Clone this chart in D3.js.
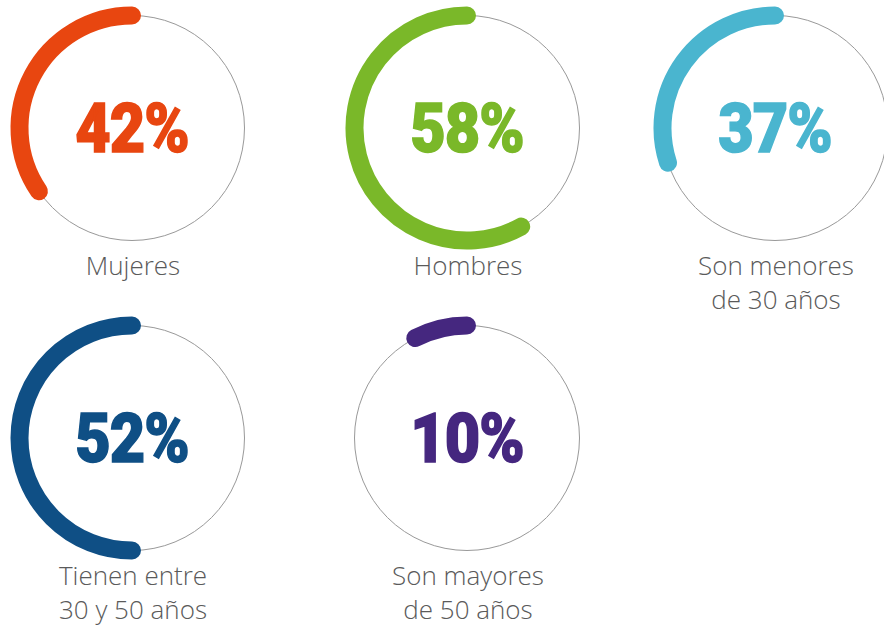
<!DOCTYPE html>
<html>
<head>
<meta charset="utf-8">
<script src="https://cdn.jsdelivr.net/npm/d3@7"></script>
<style>
  body { margin: 0; background: #fff; }
</style>
</head>
<body>
<svg id="chart"></svg>
<script>
// values printed in the centre, and how far each arc is actually drawn round the ring
const labels = [["Mujeres"], ["Hombres"], ["Son menores", "de 30 años"], ["Tienen entre", "30 y 50 años"], ["Son mayores", "de 50 años"]];
const values = [42, 58, 37, 52, 10];
const arcShare = [0.345, 0.58, 0.30, 0.50, 0.076];
const colors = ["#e84610", "#7ab829", "#4ab5cf", "#0f4f85", "#45277f"];

const width = 884, height = 631;
const r = 112.5;
const centersX = [132, 467, 775];
const centersY = [128, 438];

const svg = d3.select("#chart")
    .attr("width", width)
    .attr("height", height);

const items = values.map((v, i) => ({
    value: v,
    share: arcShare[i],
    label: labels[i],
    color: colors[i],
    cx: centersX[i % 3],
    cy: centersY[Math.floor(i / 3)]
}));

const g = svg.selectAll(".gauge")
    .data(items)
    .enter().append("g")
    .attr("class", "gauge")
    .attr("transform", d => `translate(${d.cx},${d.cy})`);

// thin grey ring
g.append("circle")
    .attr("r", r)
    .attr("fill", "none")
    .attr("stroke", "#999")
    .attr("stroke-width", 1);

// thick arc, from 12 o'clock going anticlockwise
g.append("path")
    .attr("d", d => {
        const p = d3.path();
        const a0 = -Math.PI / 2;
        p.arc(0, 0, r, a0, a0 - d.share * 2 * Math.PI, true);
        return p.toString();
    })
    .attr("fill", "none")
    .attr("stroke", d => d.color)
    .attr("stroke-width", 18)
    .attr("stroke-linecap", "round");

// percentage (condensed heavy look)
g.append("text")
    .attr("transform", "scale(0.9,1)")
    .attr("x", 0)
    .attr("y", 24)
    .attr("text-anchor", "middle")
    .style("font-family", "Roboto, 'Liberation Sans', sans-serif")
    .style("font-weight", 900)
    .style("font-size", "68px")
    .style("letter-spacing", "-1px")
    .attr("fill", d => d.color)
    .attr("stroke", d => d.color)
    .attr("stroke-width", 1.5)
    .text(d => d.value + "%");

// label under the ring
g.each(function (d) {
    const t = d3.select(this).append("text")
        .attr("text-anchor", "middle")
        .style("font-family", "'Open Sans', sans-serif")
        .style("font-weight", 300)
        .style("font-size", "26px")
        .attr("fill", "#5a5a5a");
    d.label.forEach((line, k) => {
        t.append("tspan")
            .attr("x", 1)
            .attr("y", 147 + k * 34)
            .text(line);
    });
});
</script>
</body>
</html>
